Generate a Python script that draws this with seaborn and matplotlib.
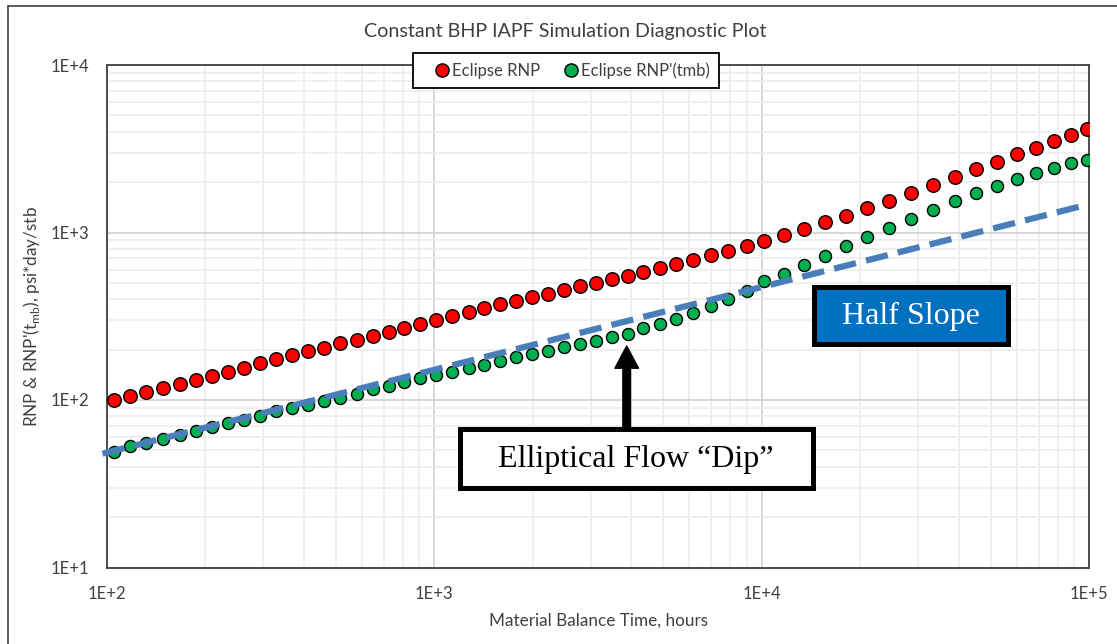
import numpy as np
import pandas as pd
import matplotlib
matplotlib.use("Agg")
import matplotlib.pyplot as plt
import seaborn as sns
from matplotlib.patches import Rectangle, FancyArrowPatch, ArrowStyle
from matplotlib.lines import Line2D
from matplotlib.ticker import FixedLocator, FixedFormatter, LogLocator, NullFormatter

# ---------------- data ----------------
time_hours = [105, 118, 132, 148, 167, 187, 209, 234, 262, 294,
              328, 368, 412, 462, 516, 580, 650, 727, 810, 906,
              1014, 1135, 1274, 1421, 1590, 1780, 1988, 2220, 2489, 2786,
              3111, 3482, 3895, 4346, 4888, 5481, 6165, 6982, 7901, 9043,
              10190, 11710, 13460, 15560, 18040, 20990, 24510, 28610, 33250, 38890,
              45180, 52160, 60150, 68760, 77860, 87930, 98600]
rnp = [100, 105.2, 112.1, 118.4, 124.6, 131.6, 139.1, 147.6, 155.9, 165.6,
       175.0, 184.9, 195.3, 205.2, 218.0, 228.1, 242.0, 255.7, 269.2, 284.3,
       301.6, 316.0, 333.9, 352.7, 372.7, 390.0, 410.4, 431.0, 455.0, 477.0,
       501.5, 527.7, 552.2, 581.0, 616.5, 648.6, 685.3, 734.0, 778.7, 830.0,
       893.3, 962.2, 1054, 1151, 1260, 1395, 1542, 1714, 1921, 2145,
       2394, 2647, 2942, 3208, 3504, 3820, 4131]
rnp_deriv = [49.1, 53.2, 55.1, 58.5, 61.5, 65.0, 68.7, 72.6, 76.3, 80.6,
             85.6, 89.6, 93.7, 99.0, 102.8, 108.6, 115.8, 120.7, 128.1, 134.8,
             141.0, 147.6, 154.6, 162.4, 171.6, 179.8, 189.0, 197.0, 206.4, 216.0,
             226.0, 238.7, 248.8, 268.0, 284.3, 305.8, 329.4, 364.1, 400.9, 449.2,
             511.2, 565.2, 637.3, 727.1, 827.3, 935.9, 1064, 1209, 1362, 1542,
             1722, 1903, 2087, 2266, 2427, 2589, 2709]
half_slope_x = [97, 95000]
half_slope_y = [47.8, 1440]

series_names = ["Eclipse RNP", "Eclipse RNP'(tmb)"]
x_ticks = [1e2, 1e3, 1e4, 1e5]
x_tick_labels = ["1E+2", "1E+3", "1E+4", "1E+5"]
y_ticks = [1e1, 1e2, 1e3, 1e4]
y_tick_labels = ["1E+1", "1E+2", "1E+3", "1E+4"]

title = "Constant BHP IAPF Simulation Diagnostic Plot"
x_label = "Material Balance Time, hours"
y_label = "RNP & RNP'(t$_{\\mathregular{mb}}$), psi*day/stb"
note_half = "Half Slope"
note_dip = "Elliptical Flow \u201cDip\u201d"

# ---------------- style ----------------
sns.set_theme(style="white")
plt.rcParams["font.family"] = ["Lato", "DejaVu Sans"]
text_color = "#404040"

W, H = 1117, 644
fig = plt.figure(figsize=(W / 100, H / 100), dpi=100)
ax = fig.add_axes([106.8 / W, 1 - 567.5 / H, 982.5 / W, 502.5 / H])

df = pd.DataFrame({
    "t": time_hours * 2,
    "value": rnp + rnp_deriv,
    "series": [series_names[0]] * len(time_hours) + [series_names[1]] * len(time_hours),
})
colors = {series_names[0]: "#ff0000", series_names[1]: "#00b050"}

sns.scatterplot(data=df[df.series == series_names[0]], x="t", y="value",
                color=colors[series_names[0]], s=95, edgecolor="black",
                linewidth=1.0, ax=ax, legend=False, zorder=3)
sns.scatterplot(data=df[df.series == series_names[1]], x="t", y="value",
                color=colors[series_names[1]], s=75, edgecolor="black",
                linewidth=1.0, ax=ax, legend=False, zorder=3)
sns.lineplot(x=half_slope_x, y=half_slope_y, ax=ax, color="#4a7ebb",
             linewidth=4.5, linestyle=(0, (3.6, 1.65)), zorder=4,
             dash_capstyle="butt", clip_on=False)

ax.set_xscale("log")
ax.set_yscale("log")
ax.set_xlim(1e2, 1e5)
ax.set_ylim(1e1, 1e4)
ax.xaxis.set_major_locator(FixedLocator(x_ticks))
ax.xaxis.set_major_formatter(FixedFormatter(x_tick_labels))
ax.yaxis.set_major_locator(FixedLocator(y_ticks))
ax.yaxis.set_major_formatter(FixedFormatter(y_tick_labels))
ax.xaxis.set_minor_locator(LogLocator(base=10, subs=range(2, 10)))
ax.yaxis.set_minor_locator(LogLocator(base=10, subs=range(2, 10)))
ax.xaxis.set_minor_formatter(NullFormatter())
ax.yaxis.set_minor_formatter(NullFormatter())
ax.grid(which="major", color="#d4d4d4", linewidth=1.3)
ax.grid(which="minor", color="#eeeeee", linewidth=1.3)
ax.set_axisbelow(True)
ax.tick_params(which="both", length=0, pad=13, labelsize=12, labelcolor=text_color)
for sp in ax.spines.values():
    sp.set_visible(True)
    sp.set_color("#404040")
    sp.set_linewidth(1.3)

ax.set_xlabel(x_label, fontsize=12.3, color=text_color, labelpad=8)
ax.set_ylabel(y_label, fontsize=12.3, color=text_color, labelpad=6)

fig.text(565 / W, 1 - 32 / H, title, ha="center", va="center",
         fontsize=14.2, color=text_color)

# legend
handles = [Line2D([], [], marker="o", linestyle="none", markersize=9.5,
                  markerfacecolor=colors[n], markeredgecolor="black",
                  markeredgewidth=1.0) for n in series_names]
leg = fig.legend(handles, series_names, loc="center",
                 bbox_to_anchor=(566 / W, 1 - 70.5 / H), ncol=2, frameon=True,
                 fancybox=False, edgecolor="black", fontsize=12,
                 handletextpad=-0.56, columnspacing=0.7, borderpad=0.55,
                 handlelength=2.33, labelcolor=text_color, framealpha=1)
leg.get_frame().set_linewidth(1.3)

# annotation boxes
def fig_rect(x0, y0, x1, y1, fc):
    r = Rectangle((x0 / W, 1 - y1 / H), (x1 - x0) / W, (y1 - y0) / H,
                  transform=fig.transFigure, facecolor=fc, edgecolor="black",
                  linewidth=3.6, joinstyle="miter", zorder=6)
    fig.add_artist(r)

fig_rect(813.7, 286.5, 1007.7, 344.2, "#0070c0")
fig.text(910.7 / W, 1 - 316 / H, note_half, ha="center", va="center",
         fontsize=23, family="Liberation Serif", color="white", zorder=7)

fig_rect(459.7, 429.2, 812.5, 487.5, "white")
fig.text(636 / W, 1 - 459 / H, note_dip, ha="center", va="center",
         fontsize=23, family="Liberation Serif", color="black", zorder=7)

arrow = FancyArrowPatch((626.7 / W, 1 - 428 / H), (626.7 / W, 1 - 346 / H),
                        transform=fig.transFigure,
                        arrowstyle=ArrowStyle.Simple(head_length=16, head_width=17, tail_width=5.5),
                        mutation_scale=1, color="black", shrinkA=0, shrinkB=0, zorder=6)
fig.add_artist(arrow)

# chart-area border (left & top visible)
fig.add_artist(Line2D([8 / W, 8 / W], [0, 1 - 6 / H], transform=fig.transFigure,
                      color="#404040", linewidth=1.2))
fig.add_artist(Line2D([8 / W, 1], [1 - 6 / H, 1 - 6 / H], transform=fig.transFigure,
                      color="#404040", linewidth=1.2))

fig.savefig("out.png", dpi=100)
